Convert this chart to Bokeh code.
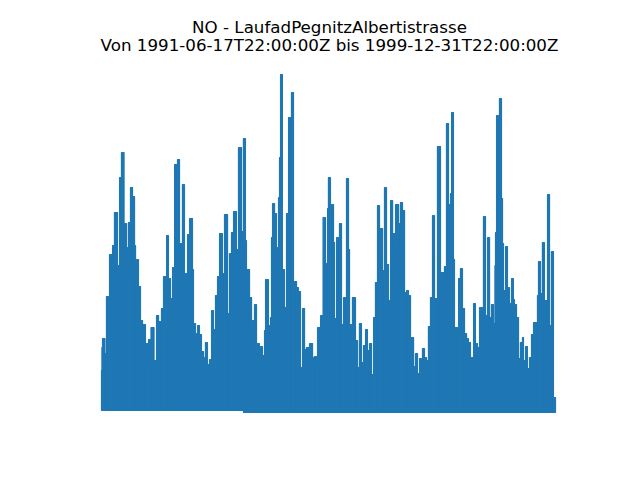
import pandas as pd
from bokeh.plotting import figure
from bokeh.models import Range1d, Label, ColumnDataSource
from bokeh.embed import file_html
from bokeh.resources import INLINE

# ---- data (segments of the NO series) ----
start_date = "1991-06-17T22:00:00"
end_day = 3119  # 1999-12-31T22:00:00Z, days after start

seg_day = [0, 3, 7, 24, 34, 48, 55, 69, 76, 89,
           110, 124, 137, 155, 172, 179, 185, 199, 213, 227,
           234, 240, 254, 268, 282, 302, 309, 323, 340, 361,
           378, 392, 412, 426, 447, 460, 474, 488, 498, 502,
           522, 536, 556, 570, 584, 591, 605, 625, 632, 646,
           660, 673, 687, 701, 714, 728, 742, 756, 769, 783,
           797, 811, 831, 845, 866, 879, 893, 907, 927, 941,
           962, 975, 989, 996, 1017, 1031, 1044, 1051, 1065, 1085,
           1092, 1106, 1120, 1127, 1147, 1161, 1168, 1175, 1189, 1202,
           1209, 1216, 1223, 1230, 1243, 1257, 1271, 1285, 1305, 1319,
           1340, 1353, 1367, 1381, 1395, 1408, 1429, 1450, 1463, 1477,
           1484, 1505, 1522, 1539, 1553, 1559, 1573, 1594, 1601, 1615,
           1635, 1649, 1663, 1683, 1697, 1704, 1718, 1724, 1745, 1759,
           1772, 1786, 1800, 1814, 1827, 1841, 1855, 1869, 1882, 1896,
           1910, 1931, 1944, 1958, 1972, 1986, 2000, 2006, 2020, 2041,
           2054, 2068, 2082, 2096, 2109, 2123, 2144, 2157, 2171, 2185,
           2198, 2205, 2219, 2233, 2246, 2260, 2274, 2288, 2308, 2329,
           2336, 2356, 2370, 2384, 2398, 2405, 2418, 2425, 2446, 2453,
           2466, 2480, 2494, 2508, 2521, 2535, 2556, 2569, 2583, 2597,
           2618, 2624, 2638, 2652, 2666, 2679, 2693, 2703, 2707, 2714,
           2727, 2734, 2748, 2755, 2762, 2776, 2789, 2803, 2817, 2830,
           2837, 2851, 2865, 2878, 2892, 2899, 2913, 2926, 2940, 2954,
           2968, 2981, 2995, 3002, 3016, 3029, 3043, 3064, 3078, 3091,
           3105]

seg_peak = [42, 65, 74, 59, 116, 112, 158, 135, 167, 200,
            147, 235, 260, 189, 165, 135, 190, 225, 216, 167,
            134, 153, 126, 92, 88, 45, 69, 73, 85, 52,
            97, 91, 104, 136, 177, 134, 114, 145, 119, 248,
            253, 169, 228, 139, 97, 178, 194, 143, 89, 79,
            87, 78, 61, 55, 70, 48, 53, 102, 83, 117,
            136, 179, 139, 198, 99, 159, 180, 201, 163, 265,
            181, 274, 172, 143, 115, 92, 78, 108, 69, 49,
            66, 57, 82, 133, 87, 95, 175, 209, 199, 165,
            140, 215, 255, 338, 143, 105, 199, 295, 320, 131,
            125, 121, 45, 104, 63, 65, 69, 55, 56, 46,
            85, 97, 195, 149, 204, 235, 208, 170, 94, 175,
            189, 88, 115, 234, 163, 88, 84, 115, 72, 45,
            89, 50, 67, 83, 62, 69, 38, 95, 130, 207,
            184, 142, 225, 148, 112, 212, 62, 179, 208, 189,
            210, 202, 120, 122, 117, 75, 46, 59, 39, 54,
            49, 64, 55, 52, 86, 115, 197, 114, 266, 122,
            140, 146, 289, 208, 219, 300, 153, 85, 77, 134,
            144, 104, 79, 74, 70, 55, 109, 69, 65, 105,
            93, 196, 97, 175, 95, 108, 89, 147, 180, 297,
            257, 314, 214, 169, 122, 166, 125, 109, 134, 113,
            108, 95, 54, 70, 75, 52, 66, 44, 55, 78,
            90, 90, 117, 151, 119, 170, 112, 218, 87, 161,
            15]

era_start_day = [0, 975]
era_floor = [2, 0]

title_line1 = "NO - LaufadPegnitzAlbertistrasse"
title_line2 = "Von 1991-06-17T22:00:00Z bis 1999-12-31T22:00:00Z"

# ---- build segments ----
t0 = pd.Timestamp(start_date)
rights = seg_day[1:] + [end_day]
lows = []
for d in seg_day:
    f = era_floor[0]
    for s, fl in zip(era_start_day, era_floor):
        if d >= s:
            f = fl
    lows.append(f)

src = ColumnDataSource(dict(
    left=[t0 + pd.Timedelta(days=d) for d in seg_day],
    right=[t0 + pd.Timedelta(days=d) for d in rights],
    top=seg_peak,
    bottom=lows,
))

W, H = 624, 464
px_left, px_right = 101.0, 555.0       # frame px of first / last date
px_per_day = (px_right - px_left) / end_day
x_start = t0 - pd.Timedelta(days=px_left / px_per_day)
x_end = x_start + pd.Timedelta(days=W / px_per_day)

p = figure(width=W, height=H, output_backend="svg", toolbar_location=None,
           x_axis_location=None, y_axis_location=None, title=None,
           min_border=0, x_axis_type="datetime",
           x_range=Range1d(x_start, x_end), y_range=Range1d(-52, 412))
p.outline_line_color = None
p.background_fill_color = "white"
p.border_fill_color = "white"
p.grid.visible = False

p.quad(left="left", right="right", top="top", bottom="bottom", source=src,
       fill_color="#1f77b4", line_color="#1f77b4", line_width=1.2)

for txt, yy in [(title_line1, H - 26.5), (title_line2, H - 44)]:
    p.add_layout(Label(x=329, y=yy, x_units="screen", y_units="screen",
                       text=txt, text_align="center", text_baseline="alphabetic",
                       text_font="DejaVu Sans", text_font_size="16.7px",
                       text_color="black"))

open("out.html", "w").write(file_html(p, INLINE))
